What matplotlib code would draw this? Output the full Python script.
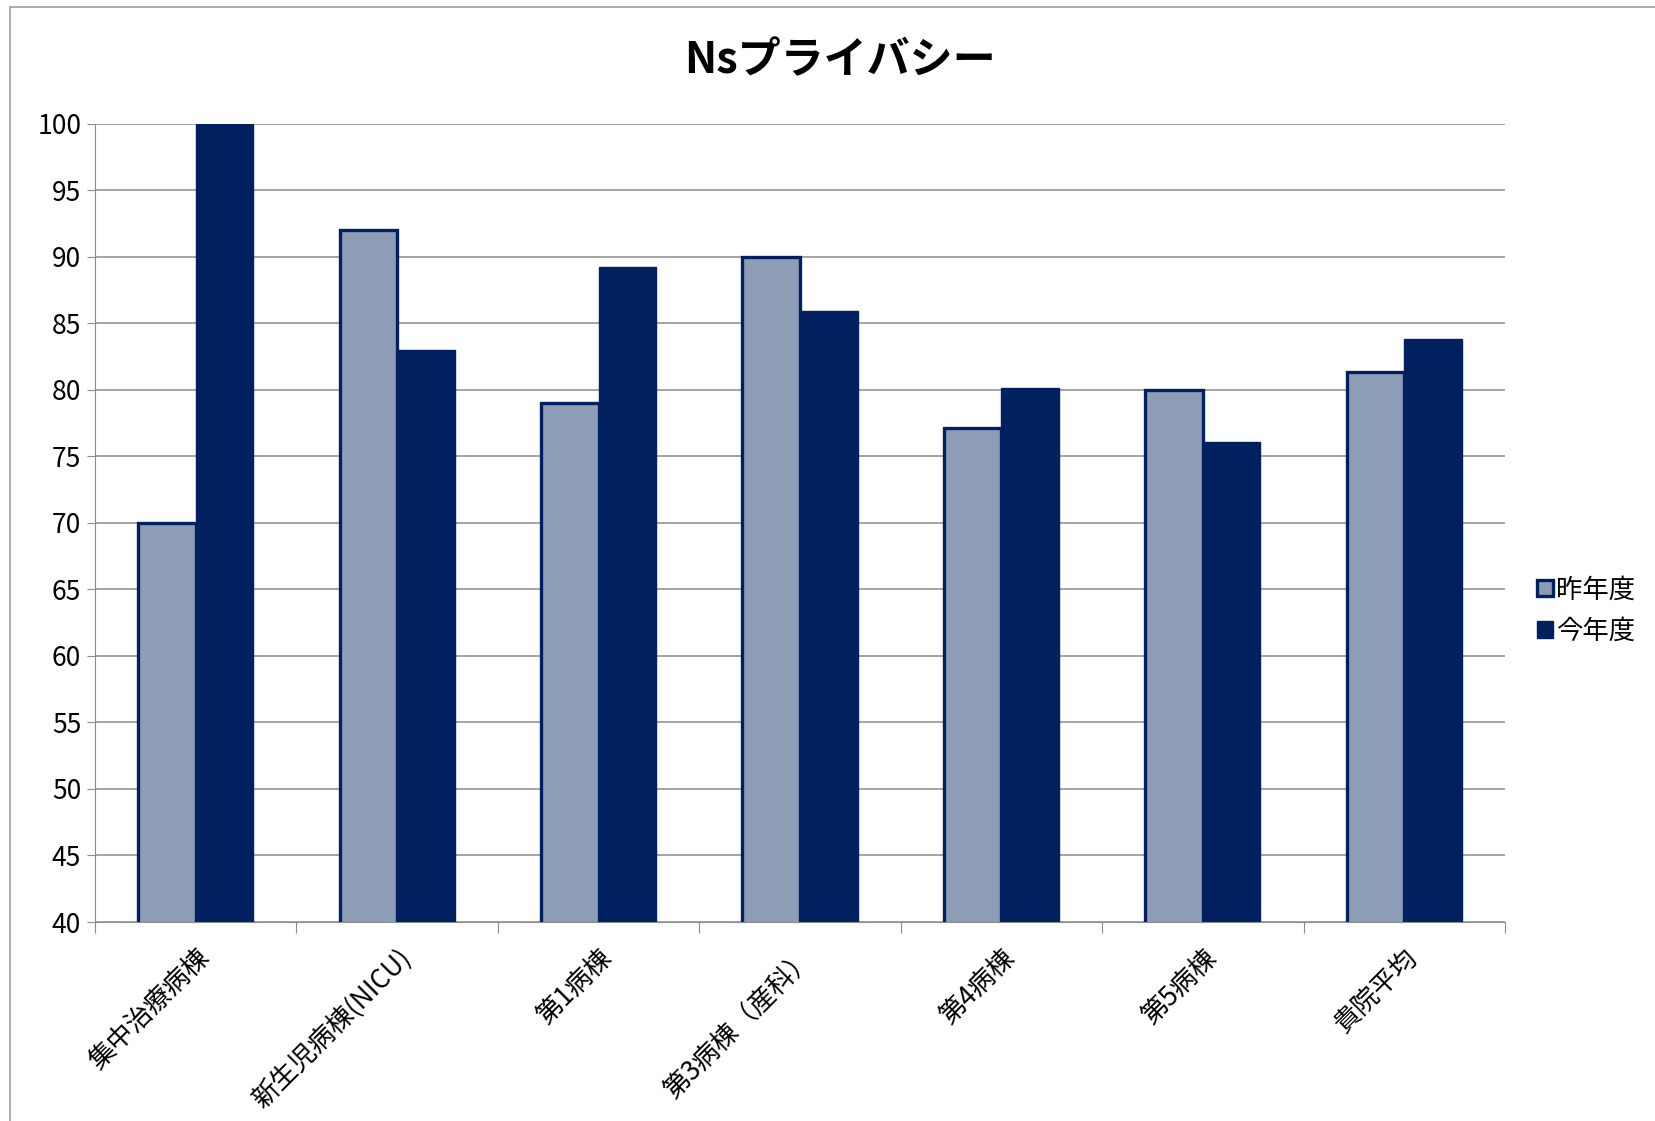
import matplotlib
matplotlib.use("Agg")
import matplotlib.pyplot as plt
import numpy as np
from matplotlib.patches import Rectangle

plt.rcParams['font.family'] = ['Noto Sans CJK JP', 'DejaVu Sans']

# data
wards = ['集中治療病棟', '新生児病棟(NICU)', '第1病棟', '第3病棟（産科）', '第4病棟', '第5病棟', '貴院平均']
last_year = [70, 92, 79, 90, 77.1, 80, 81.3]
this_year = [100, 83, 89.2, 85.9, 80.1, 76.1, 83.8]
series_names = ['昨年度', '今年度']
yticks = list(range(40, 101, 5))

light = '#8c9db5'
dark = '#002060'

fig = plt.figure(figsize=(16.56, 11.21), dpi=100)
ax = fig.add_axes([0.0574, 0.1775, 0.8514, 0.7122])

# chart border (cut off at right/bottom like the source)
fig.patches.append(Rectangle((0.006, -0.05), 1.2, 1.044, transform=fig.transFigure,
                             fill=False, edgecolor='#a0a0a0', linewidth=1.2))

x = np.arange(len(wards))
w = 1 / 3.5
ax.bar(x - w / 2, last_year, w, color=light, edgecolor=dark, linewidth=2.4,
       label=series_names[0], zorder=3)
ax.bar(x + w / 2, this_year, w, color=dark, edgecolor=dark, linewidth=1,
       label=series_names[1], zorder=4)

ax.set_ylim(40, 100)
ax.set_xlim(-0.5, len(wards) - 0.5)
ax.set_yticks(yticks)
ax.set_yticklabels([str(v) for v in yticks], fontsize=19)
ax.yaxis.grid(True, color='#8c8c8c', linewidth=1.1, zorder=0)
ax.set_axisbelow(True)

# category boundary ticks on x
ax.set_xticks(np.arange(len(wards) + 1) - 0.5)
ax.set_xticklabels([])
ax.set_xticks(x, minor=True)
ax.set_xticklabels(wards, minor=True, rotation=45, ha='right', va='top',
                   rotation_mode='anchor', fontsize=19)
ax.tick_params(axis='x', which='minor', length=0, pad=16)
ax.tick_params(axis='x', which='major', length=8, color='#8c8c8c')
ax.tick_params(axis='y', length=6, color='#8c8c8c', pad=4)

for s in ['top', 'right']:
    ax.spines[s].set_visible(False)
ax.spines['left'].set_color('#8c8c8c')
ax.spines['bottom'].set_color('#8c8c8c')
ax.spines['bottom'].set_zorder(5)

fig.text(0.507, 0.946, 'Nsプライバシー', ha='center', va='center',
         fontsize=31, fontweight='bold')

ax.legend(loc='center left', bbox_to_anchor=(1.006, 0.39), frameon=False,
          fontsize=19, handlelength=0.6, handleheight=0.6, handletextpad=0.12,
          labelspacing=0.55)

fig.savefig('out.png', dpi=100)
